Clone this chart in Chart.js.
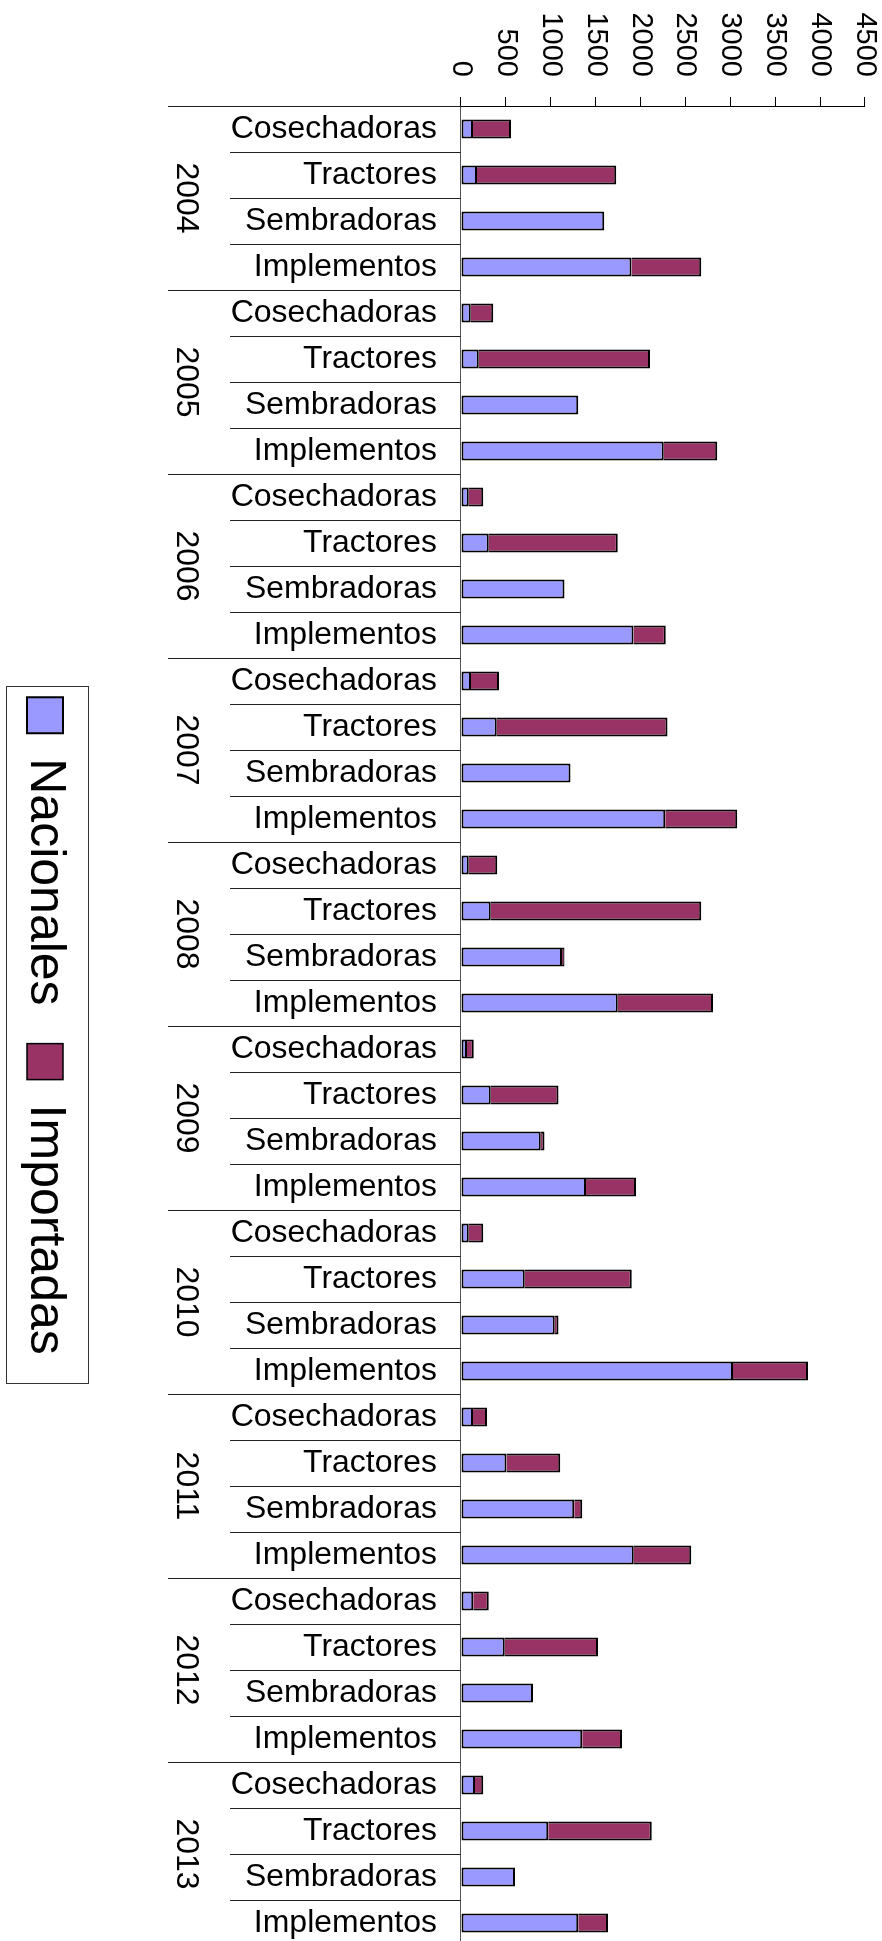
<!DOCTYPE html>
<html>
<head>
<meta charset="utf-8">
<script src="https://cdn.jsdelivr.net/npm/chart.js@4/dist/chart.umd.min.js"></script>
<style>
  html, body { margin: 0; padding: 0; background: #fff; width: 882px; height: 1941px; overflow: hidden; }
  /* chart is drawn as a column chart and turned a quarter turn clockwise */
  #wrap { position: absolute; left: 0; top: 0; width: 1941px; height: 882px; overflow: hidden;
          transform-origin: 0 0; transform: translate(882px, 0) rotate(90deg); }
</style>
</head>
<body>
<div id="wrap"><canvas id="myChart" width="1946" height="882"></canvas></div>
<script>
let chart;
const years = ['2004', '2005', '2006', '2007', '2008', '2009', '2010', '2011', '2012', '2013'];
const machines = ['Cosechadoras', 'Tractores', 'Sembradoras', 'Implementos'];

// one value per year and machine, same order as years x machines
const nacionales = [
  134, 178, 1595, 1900,
  108, 197, 1306, 2259,
  85, 308, 1154, 1922,
  111, 397, 1221, 2274,
  85, 330, 1124, 1747,
  67, 330, 887, 1391,
  85, 709, 1043, 3031,
  134, 508, 1261, 1925,
  137, 486, 801, 1350,
  156, 972, 601, 1306
];
const importadas = [
  422, 1551, 0, 775,
  252, 1907, 0, 594,
  164, 1439, 0, 360,
  312, 1903, 0, 802,
  319, 2345, 30, 1061,
  74, 757, 44, 557,
  164, 1194, 44, 835,
  155, 598, 89, 639,
  171, 1039, 0, 442,
  93, 1154, 0, 330
];
const axisMax = 4500;
const axisStep = 500;

const fontFamily = "'Liberation Sans', Arial, sans-serif";

// separator lines and year names under the category labels
const groupLines = {
    id: 'groupLines',
    afterDraw(c) {
        const {ctx, chartArea, scales: {x}} = c;
        const n = x.getLabels().length;
        const half = (x.getPixelForValue(1) - x.getPixelForValue(0)) / 2;
        ctx.save();
        ctx.strokeStyle = '#222';
        ctx.lineWidth = 1;
        for (let i = 0; i <= n; i++) {
            const px = Math.round(i < n ? x.getPixelForValue(i) - half : x.getPixelForValue(n - 1) + half) + 0.5;
            const len = i % machines.length === 0 ? 293 : 231;
            ctx.beginPath();
            ctx.moveTo(px, chartArea.bottom);
            ctx.lineTo(px, chartArea.bottom + len);
            ctx.stroke();
        }
        ctx.fillStyle = '#000';
        ctx.font = '32px ' + fontFamily;
        ctx.textAlign = 'center';
        ctx.textBaseline = 'alphabetic';
        years.forEach((year, g) => {
            const first = x.getPixelForValue(g * machines.length);
            const last = x.getPixelForValue(g * machines.length + machines.length - 1);
            ctx.fillText(year, (first + last) / 2, chartArea.bottom + 284);
        });

        // frame round the legend
        const boxes = c.legend.legendHitBoxes;
        if (boxes && boxes.length) {
            const a = boxes[0];
            const b = boxes[boxes.length - 1];
            const left = Math.round(a.left - 11) + 0.5;
            const right = Math.round(b.left + b.width + 28) + 0.5;
            const top = Math.round(a.top - 19) + 0.5;
            const bottom = Math.round(a.top + 63) + 0.5;
            ctx.strokeStyle = '#333';
            ctx.strokeRect(left, top, right - left, bottom - top);
        }
        ctx.restore();
    }
};

document.addEventListener('DOMContentLoaded', function () {
    renderChart();
});

function renderChart(){
    if(chart){
        chart.destroy();
    }
    Chart.defaults.font.family = fontFamily;
    Chart.defaults.color = '#000';
    const labels = [];
    for(const year of years){
        for(const m of machines){
            labels.push(m);
        }
    }
    const ctx = document.getElementById('myChart').getContext('2d');
    chart = new Chart(ctx, {
        type: 'bar',
        data: {
            labels: labels,
            datasets: [{
                label: 'Nacionales',
                data: nacionales,
                backgroundColor: '#9999FF',
                borderColor: '#000',
                borderWidth: { top: 2, right: 2, bottom: 2, left: 2 },
                borderSkipped: false
            }, {
                label: 'Importadas',
                data: importadas,
                backgroundColor: '#993366',
                borderColor: '#000',
                borderWidth: { top: 2, right: 2, bottom: 0, left: 2 },
                borderSkipped: false
            }]
        },
        options: {
            responsive: false,
            animation: false,
            devicePixelRatio: 1,
            layout: { padding: { top: 17, bottom: 10, left: 0, right: 0 } },
            datasets: { bar: { barPercentage: 0.413, categoryPercentage: 1 } },
            plugins: {
                tooltip: { enabled: false },
                legend: {
                    position: 'bottom',
                    fullSize: false,
                    labels: {
                        boxWidth: 36,
                        boxHeight: 36,
                        padding: 38,
                        font: { size: 50 },
                        color: '#000'
                    }
                }
            },
            scales: {
                x: {
                    stacked: true,
                    grid: { display: false },
                    border: { display: true, color: '#555', width: 1 },
                    ticks: {
                        autoSkip: false,
                        minRotation: 90,
                        maxRotation: 90,
                        padding: 16,
                        font: { size: 32 }
                    },
                    afterFit(s) {
                        s.height = 353;
                        s.paddingLeft = 0;
                        s.paddingRight = 0;
                    }
                },
                y: {
                    stacked: true,
                    min: 0,
                    max: axisMax,
                    grid: { drawOnChartArea: false, drawTicks: true, tickLength: 9, color: '#000' },
                    border: { display: true, color: '#000', width: 1 },
                    ticks: {
                        stepSize: axisStep,
                        padding: 20,
                        font: { size: 29 },
                        callback: function(value){ return String(value); }
                    },
                    afterFit(s) {
                        s.width = 106;
                        s.paddingTop = 0;
                        s.paddingBottom = 0;
                    }
                }
            }
        },
        plugins: [groupLines]
    });
}
</script>
</body>
</html>
